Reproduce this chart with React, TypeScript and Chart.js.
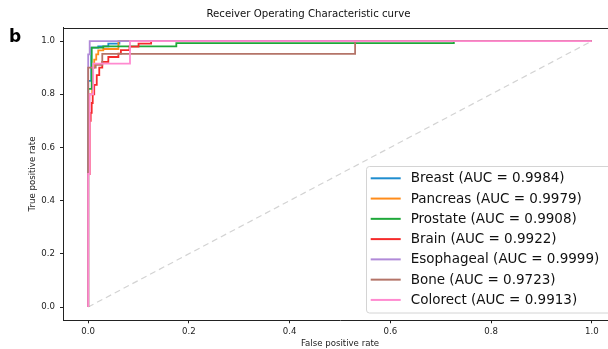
import React, { useEffect, useRef } from "react";
import { Chart, registerables } from "chart.js";
Chart.register(...registerables);

const FONT = "'DejaVu Sans', 'Liberation Sans', sans-serif";

const chartTitle = "Receiver Operating Characteristic curve";
const panelLetter = "b";
const xAxisLabel = "False positive rate";
const yAxisLabel = "True positive rate";

const seriesNames = ["Breast", "Pancreas", "Prostate", "Brain", "Esophageal", "Bone", "Colorect"];
const aucValues = [0.9984, 0.9979, 0.9908, 0.9922, 0.9999, 0.9723, 0.9913];
const seriesColors = ["#1f8dcf", "#ff8c1a", "#1fa83a", "#f52a2a", "#b08ad8", "#b47468", "#ff8ad0"];

const breastFpr = [0, 0, 0.006, 0.006, 0.02, 0.04, 0.04, 0.062, 0.062, 1];
const breastTpr = [0, 0.85, 0.9, 0.975, 0.98, 0.98, 0.99, 0.99, 1, 1];

const pancreasFpr = [0, 0, 0.008, 0.012, 0.016, 0.02, 0.03, 0.06, 0.06, 1];
const pancreasTpr = [0, 0.8, 0.9, 0.93, 0.95, 0.965, 0.97, 0.97, 1, 1];

const prostateFpr = [0, 0, 0.007, 0.007, 0.02, 0.03, 0.175, 0.175, 0.726, 0.726, 1];
const prostateTpr = [0, 0.82, 0.87, 0.975, 0.975, 0.98, 0.98, 0.992, 0.992, 1, 1];

const brainFpr = [0, 0, 0.003, 0.005, 0.007, 0.009, 0.012, 0.017, 0.022, 0.028, 0.04, 0.06, 0.065, 0.082, 0.1, 0.125, 0.125, 1];
const brainTpr = [0, 0.5, 0.7, 0.73, 0.767, 0.8, 0.835, 0.872, 0.9, 0.922, 0.94, 0.953, 0.966, 0.979, 0.99, 0.99, 1, 1];

const esophagealFpr = [0, 0, 0.003, 0.003, 1];
const esophagealTpr = [0, 0.95, 0.95, 1, 1];

const boneFpr = [0, 0, 0.005, 0.015, 0.028, 0.028, 0.53, 0.53, 1];
const boneTpr = [0, 0.9, 0.9, 0.91, 0.91, 0.952, 0.952, 1, 1];

const colorectFpr = [0, 0, 0.003, 0.01, 0.01, 0.083, 0.083, 1];
const colorectTpr = [0, 0.5, 0.8, 0.84, 0.915, 0.915, 1, 1];

const chanceFpr = [0, 1];
const chanceTpr = [0, 1];

const xTicks = [0, 0.2, 0.4, 0.6, 0.8, 1.0];
const yTicks = [0, 0.2, 0.4, 0.6, 0.8, 1.0];

const allFpr = [breastFpr, pancreasFpr, prostateFpr, brainFpr, esophagealFpr, boneFpr, colorectFpr];
const allTpr = [breastTpr, pancreasTpr, prostateTpr, brainTpr, esophagealTpr, boneTpr, colorectTpr];

const toPoints = (xs: number[], ys: number[]) => xs.map((x, i) => ({ x, y: ys[i] }));

const decorPlugin = {
  id: "decor",
  afterDraw(chart: any) {
    const ctx = chart.ctx as CanvasRenderingContext2D;
    const ca = chart.chartArea;
    ctx.save();
    ctx.strokeStyle = "#222";
    ctx.lineWidth = 1;
    ctx.beginPath();
    ctx.moveTo(ca.left, Math.round(ca.top) + 0.5);
    ctx.lineTo(ca.right, Math.round(ca.top) + 0.5);
    ctx.moveTo(Math.round(ca.right) - 0.5, ca.top);
    ctx.lineTo(Math.round(ca.right) - 0.5, ca.bottom);
    ctx.stroke();

    ctx.fillStyle = "#000";
    ctx.font = `bold 17px ${FONT}`;
    ctx.textBaseline = "alphabetic";
    ctx.textAlign = "left";
    ctx.fillText(panelLetter, 9, 42);

    const lx = 366.5, ly = 166.5, lw = 250, lh = 146.5, r = 3;
    ctx.beginPath();
    ctx.moveTo(lx + r, ly);
    ctx.lineTo(lx + lw - r, ly);
    ctx.quadraticCurveTo(lx + lw, ly, lx + lw, ly + r);
    ctx.lineTo(lx + lw, ly + lh - r);
    ctx.quadraticCurveTo(lx + lw, ly + lh, lx + lw - r, ly + lh);
    ctx.lineTo(lx + r, ly + lh);
    ctx.quadraticCurveTo(lx, ly + lh, lx, ly + lh - r);
    ctx.lineTo(lx, ly + r);
    ctx.quadraticCurveTo(lx, ly, lx + r, ly);
    ctx.closePath();
    ctx.fillStyle = "rgba(255,255,255,0.8)";
    ctx.fill();
    ctx.strokeStyle = "#d4d4d4";
    ctx.lineWidth = 1;
    ctx.stroke();

    ctx.font = `13.5px ${FONT}`;
    ctx.textBaseline = "middle";
    seriesNames.forEach((name, i) => {
      const y = 178.3 + i * 20.27;
      ctx.strokeStyle = seriesColors[i];
      ctx.lineWidth = 2;
      ctx.beginPath();
      ctx.moveTo(370.7, y);
      ctx.lineTo(400.7, y);
      ctx.stroke();
      ctx.fillStyle = "#111";
      ctx.fillText(`${name} (AUC = ${aucValues[i].toFixed(4)})`, 410.7, y + 0.5);
    });
    ctx.restore();
  },
};

export default function App() {
  const ref = useRef<HTMLCanvasElement | null>(null);
  useEffect(() => {
    if (!ref.current) return;
    const datasets: any[] = seriesNames.map((name, i) => ({
      label: `${name} (AUC = ${aucValues[i].toFixed(4)})`,
      data: toPoints(allFpr[i], allTpr[i]),
      borderColor: seriesColors[i],
      backgroundColor: seriesColors[i],
      borderWidth: 1.8,
      pointRadius: 0,
      fill: false,
      stepped: "before",
      order: seriesNames.length - i,
    }));
    datasets.push({
      label: "chance",
      data: toPoints(chanceFpr, chanceTpr),
      borderColor: "#d3d3d3",
      borderWidth: 1.2,
      borderDash: [6, 4],
      pointRadius: 0,
      fill: false,
      order: 20,
    });

    const chart = new Chart(ref.current, {
      type: "line",
      data: { datasets },
      plugins: [decorPlugin],
      options: {
        animation: false,
        responsive: false,
        maintainAspectRatio: false,
        layout: { padding: { left: 0, right: 13, top: 0, bottom: 0 } },
        plugins: {
          legend: { display: false },
          tooltip: { enabled: false },
          title: {
            display: true,
            text: chartTitle,
            color: "#111",
            font: { family: FONT, size: 10.2, weight: "normal", lineHeight: 1.2 },
            padding: { top: 8.5, bottom: 7 },
          },
        },
        scales: {
          x: {
            type: "linear",
            min: -0.05,
            max: 1.05,
            afterBuildTicks: (s: any) => {
              s.ticks = xTicks.map((v) => ({ value: v }));
            },
            afterFit: (s: any) => {
              s.height = 28.7;
            },
            ticks: {
              color: "#222",
              font: { family: FONT, size: 8.6 },
              padding: 3,
              maxRotation: 0,
              autoSkip: false,
              callback: (v: any) => Number(v).toFixed(1),
            },
            grid: { display: true, drawOnChartArea: false, drawTicks: true, tickLength: 3, tickColor: "#222", color: "#222" },
            border: { display: true, color: "#222", width: 1 },
            title: {
              display: true,
              text: xAxisLabel,
              color: "#222",
              font: { family: FONT, size: 8.6 },
              padding: { top: 0, bottom: 0 },
            },
          },
          y: {
            type: "linear",
            min: -0.05,
            max: 1.05,
            afterBuildTicks: (s: any) => {
              s.ticks = yTicks.map((v) => ({ value: v }));
            },
            afterFit: (s: any) => {
              s.width = 63;
            },
            ticks: {
              color: "#222",
              font: { family: FONT, size: 8.6 },
              padding: 5,
              autoSkip: false,
              callback: (v: any) => Number(v).toFixed(1),
            },
            grid: { display: true, drawOnChartArea: false, drawTicks: true, tickLength: 3, tickColor: "#222", color: "#222" },
            border: { display: true, color: "#222", width: 1 },
            title: {
              display: true,
              text: yAxisLabel,
              color: "#222",
              font: { family: FONT, size: 8.6 },
              padding: { top: 28, bottom: 0 },
            },
          },
        },
      },
    } as any);
    return () => chart.destroy();
  }, []);

  return (
    <div style={{ position: "fixed", left: 0, top: 0, width: 608, height: 349, overflow: "hidden", background: "#fff" }}>
      <canvas ref={ref} width={630} height={349} style={{ display: "block", width: 630, height: 349 }} />
    </div>
  );
}
